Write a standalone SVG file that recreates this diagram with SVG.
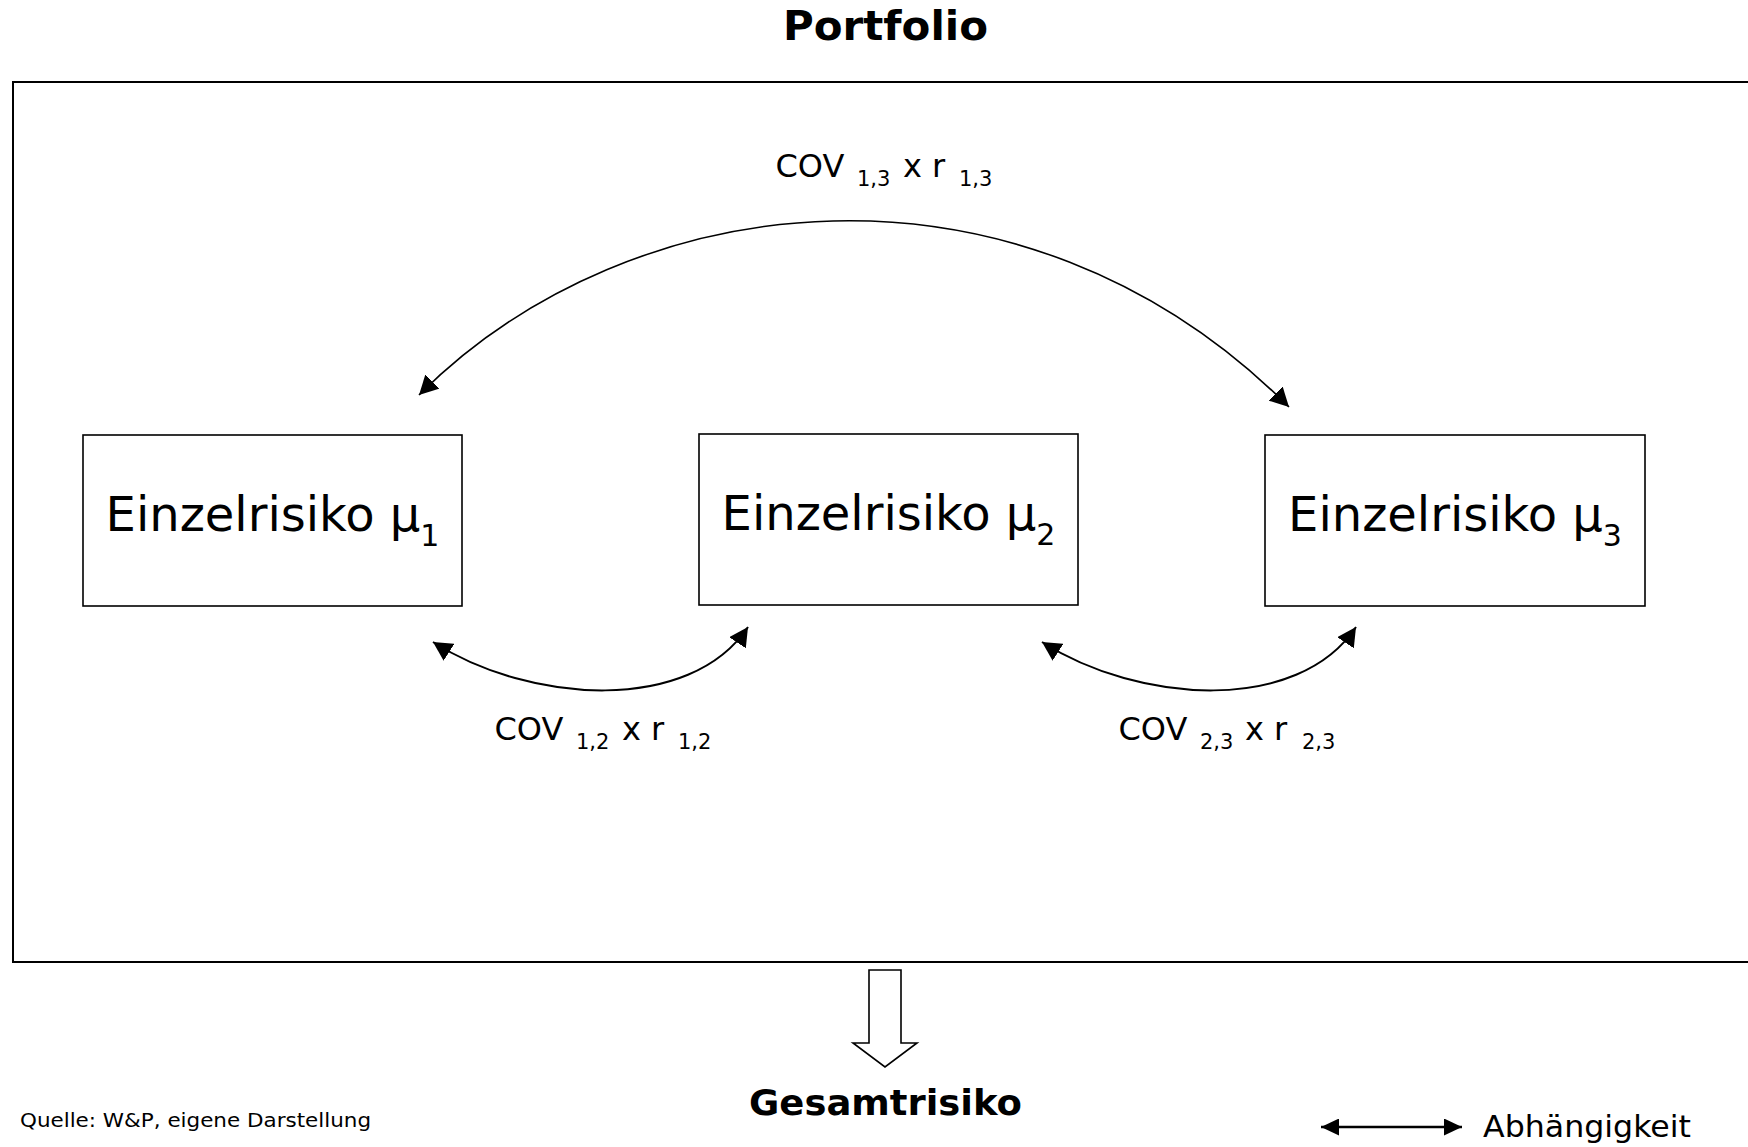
<svg xmlns="http://www.w3.org/2000/svg" width="1748" height="1147" viewBox="0 0 1748 1147">
<defs>
<style>
.box{fill:#fff;stroke:#000;stroke-width:1.6}
.btxt{font-family:"DejaVu Sans",Verdana,sans-serif;font-size:48px;fill:#000}
.bsub{font-size:30px}
.lbl{font-family:"DejaVu Sans",Verdana,sans-serif;font-size:32px;fill:#000}
.lsub{font-size:21px}
.title{font-family:"DejaVu Sans",Verdana,sans-serif;font-weight:bold;fill:#000}
.small{font-family:"DejaVu Sans",Verdana,sans-serif;fill:#000}
.arc{fill:none;stroke:#000;marker-start:url(#ah);marker-end:url(#ah)}
</style>
<marker id="ah" markerUnits="userSpaceOnUse" markerWidth="20" markerHeight="20" refX="19" refY="10" orient="auto-start-reverse" viewBox="0 0 20 20">
<path d="M0,0 L19,10 L0,20 z" fill="#000"/>
</marker>
<marker id="ahs" markerUnits="userSpaceOnUse" markerWidth="18" markerHeight="17" refX="18" refY="8.5" orient="auto-start-reverse" viewBox="0 0 18 17">
<path d="M0,0 L18,8.5 L0,17 z" fill="#000"/>
</marker>
</defs>
<rect width="1748" height="1147" fill="#fff"/>

<g id="title">
<text class="title" x="885.5" y="40" font-size="40" text-anchor="middle" textLength="205" lengthAdjust="spacingAndGlyphs">Portfolio</text>
</g>

<g id="portfolio">
<rect x="13" y="82" width="1760" height="880" fill="none" stroke="#000" stroke-width="2"/>
</g>

<g id="node1">
<rect class="box" x="83" y="435" width="379" height="171"/>
<text class="btxt" x="272.5" y="531" text-anchor="middle">Einzelrisiko μ<tspan class="bsub" dy="15">1</tspan></text>
</g>
<g id="node2">
<rect class="box" x="699" y="434" width="379" height="171"/>
<text class="btxt" x="888.5" y="530" text-anchor="middle">Einzelrisiko μ<tspan class="bsub" dy="15">2</tspan></text>
</g>
<g id="node3">
<rect class="box" x="1265" y="435" width="380" height="171"/>
<text class="btxt" x="1455" y="531" text-anchor="middle">Einzelrisiko μ<tspan class="bsub" dy="15">3</tspan></text>
</g>

<g id="connectors">
<path class="arc" stroke-width="1.6" d="M419,395 C631,183 1021,139 1289,407"/>
<path class="arc" stroke-width="2" d="M433,642 C530,704 690,714 748,627"/>
<path class="arc" stroke-width="2" d="M1042,642 C1139,704 1298,714 1356,627"/>
</g>

<g id="labels">
<text class="lbl"><tspan x="775.5" y="177">COV </tspan><tspan class="lsub" x="857" y="186">1,3 </tspan><tspan x="903" y="177">x r </tspan><tspan class="lsub" x="959" y="186">1,3</tspan></text>
<text class="lbl"><tspan x="494.5" y="740">COV </tspan><tspan class="lsub" x="576" y="749">1,2 </tspan><tspan x="622" y="740">x r </tspan><tspan class="lsub" x="678" y="749">1,2</tspan></text>
<text class="lbl"><tspan x="1118.5" y="740">COV </tspan><tspan class="lsub" x="1200" y="749">2,3 </tspan><tspan x="1245" y="740">x r </tspan><tspan class="lsub" x="1302" y="749">2,3</tspan></text>
</g>

<g id="result-arrow">
<polygon points="869,970 901,970 901,1043 917,1043 885,1067 853,1043 869,1043" fill="#fff" stroke="#000" stroke-width="1.6" stroke-linejoin="miter"/>
</g>

<g id="gesamtrisiko">
<text class="title" x="885.5" y="1115" font-size="36" text-anchor="middle" textLength="273" lengthAdjust="spacingAndGlyphs">Gesamtrisiko</text>
</g>

<g id="source">
<text class="small" x="20" y="1127" font-size="20" textLength="351" lengthAdjust="spacingAndGlyphs">Quelle: W&amp;P, eigene Darstellung</text>
</g>

<g id="legend">
<line x1="1321" y1="1127" x2="1462" y2="1127" stroke="#000" stroke-width="2.5" marker-start="url(#ahs)" marker-end="url(#ahs)"/>
<text class="small" x="1483" y="1137" font-size="30" textLength="208" lengthAdjust="spacingAndGlyphs">Abhängigkeit</text>
</g>
</svg>
